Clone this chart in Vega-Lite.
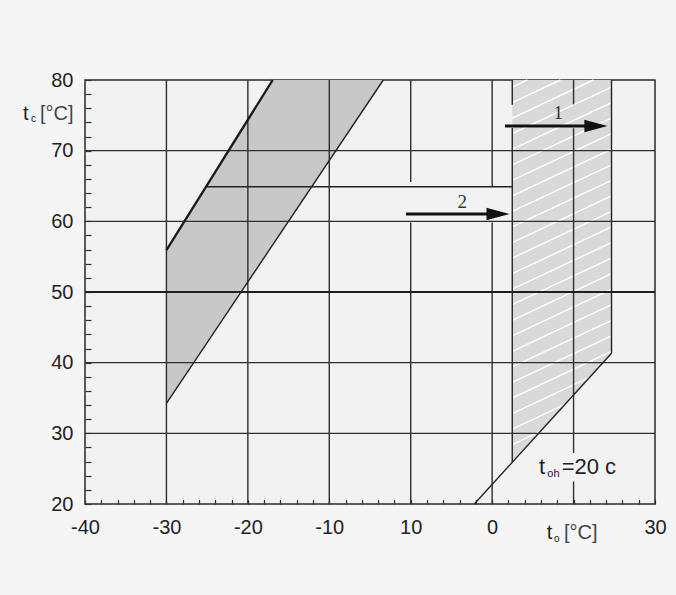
{
  "$schema": "https://vega.github.io/schema/vega-lite/v6.json",
  "width": 570,
  "height": 424,
  "autosize": {"type": "none"},
  "padding": {"left": 85, "top": 80, "right": 21, "bottom": 91},
  "background": "#f5f5f5",
  "config": {
    "view": {"fill": "#f2f2f2", "stroke": "#2a2a2a", "strokeWidth": 1.5}
  },
  "datasets": {
    "band": [
      {"x": -30, "y": 34.25, "y2": 55.94},
      {"x": -16.95, "y": 56.67, "y2": 80},
      {"x": -3.37, "y": 80, "y2": 80}
    ],
    "hatchArea": [
      {"x": 12.47, "y": 25.9, "y2": 80},
      {"x": 24.66, "y": 41.33, "y2": 80}
    ],
    "hatchLines": [
      {"x": 12.47, "y": 79.0, "x2": 14.32, "y2": 80},
      {"x": 12.47, "y": 76.8, "x2": 18.38, "y2": 80},
      {"x": 12.47, "y": 74.6, "x2": 22.44, "y2": 80},
      {"x": 12.47, "y": 72.4, "x2": 24.66, "y2": 79.0},
      {"x": 12.47, "y": 70.2, "x2": 24.66, "y2": 76.8},
      {"x": 12.47, "y": 68.0, "x2": 24.66, "y2": 74.6},
      {"x": 12.47, "y": 65.8, "x2": 24.66, "y2": 72.4},
      {"x": 12.47, "y": 63.6, "x2": 24.66, "y2": 70.2},
      {"x": 12.47, "y": 61.4, "x2": 24.66, "y2": 68.0},
      {"x": 12.47, "y": 59.2, "x2": 24.66, "y2": 65.8},
      {"x": 12.47, "y": 57.0, "x2": 24.66, "y2": 63.6},
      {"x": 12.47, "y": 54.8, "x2": 24.66, "y2": 61.4},
      {"x": 12.47, "y": 52.6, "x2": 24.66, "y2": 59.2},
      {"x": 12.47, "y": 50.4, "x2": 24.66, "y2": 57.0},
      {"x": 12.47, "y": 48.2, "x2": 24.66, "y2": 54.8},
      {"x": 12.47, "y": 46.0, "x2": 24.66, "y2": 52.6},
      {"x": 12.47, "y": 43.8, "x2": 24.66, "y2": 50.4},
      {"x": 12.47, "y": 41.6, "x2": 24.66, "y2": 48.2},
      {"x": 12.47, "y": 39.4, "x2": 24.66, "y2": 46.0},
      {"x": 12.47, "y": 37.2, "x2": 24.66, "y2": 43.8},
      {"x": 12.47, "y": 35.0, "x2": 24.66, "y2": 41.6},
      {"x": 12.47, "y": 32.8, "x2": 22.0, "y2": 37.96},
      {"x": 12.47, "y": 30.6, "x2": 18.96, "y2": 34.11},
      {"x": 12.47, "y": 28.4, "x2": 15.92, "y2": 30.27},
      {"x": 12.47, "y": 26.2, "x2": 12.88, "y2": 26.42}
    ],
    "grid": [
      {"x": -30, "y": 20, "x2": -30, "y2": 80},
      {"x": -20, "y": 20, "x2": -20, "y2": 80},
      {"x": -10, "y": 20, "x2": -10, "y2": 80},
      {"x": 0, "y": 20, "x2": 0, "y2": 59.85},
      {"x": 0, "y": 65.57, "x2": 0, "y2": 80},
      {"x": 10, "y": 20, "x2": 10, "y2": 59.85},
      {"x": 10, "y": 64.9, "x2": 10, "y2": 80},
      {"x": 20, "y": 20, "x2": 20, "y2": 23.16},
      {"x": 20, "y": 27.22, "x2": 20, "y2": 73.17},
      {"x": 20, "y": 76.56, "x2": 20, "y2": 80},
      {"x": -40, "y": 30, "x2": 30, "y2": 30},
      {"x": -40, "y": 40, "x2": 30, "y2": 40},
      {"x": -40, "y": 60, "x2": 30, "y2": 60},
      {"x": -40, "y": 70, "x2": 30, "y2": 70}
    ],
    "grid50": [
      {"x": -40, "y": 50, "x2": 30, "y2": 50}
    ],
    "outlines": [
      {"x": -30, "y": 34.25, "x2": -3.37, "y2": 80},
      {"x": 7.81, "y": 20, "x2": 24.66, "y2": 41.33},
      {"x": 24.66, "y": 41.33, "x2": 24.66, "y2": 80},
      {"x": 12.47, "y": 25.9, "x2": 12.47, "y2": 73.2},
      {"x": 12.47, "y": 76.5, "x2": 12.47, "y2": 80},
      {"x": -25.09, "y": 64.9, "x2": 12.47, "y2": 64.9}
    ],
    "thickLine": [
      {"x": -30, "y": 55.94, "x2": -16.95, "y2": 80}
    ],
    "shafts": [
      {"x": 11.58, "y": 73.49, "x2": 23.3, "y2": 73.49},
      {"x": -0.58, "y": 61.04, "x2": 11.3, "y2": 61.04}
    ],
    "heads": [
      {"x": 24.15, "y": 73.49},
      {"x": 12.13, "y": 61.04}
    ],
    "nums": [
      {"x": 18.12, "y": 75.29, "t": "1"},
      {"x": 6.33, "y": 62.74, "t": "2"}
    ],
    "annBig": [
      {"x": 15.75, "y": 24.25, "t": "t"},
      {"x": 18.54, "y": 24.25, "t": "=20 c"}
    ],
    "annSub": [
      {"x": 16.77, "y": 23.78, "t": "oh"}
    ],
    "titleBig": [
      {"x": -47.61, "y": 74.34, "t": "t"},
      {"x": 16.7, "y": 15.01, "t": "t"}
    ],
    "titleSub": [
      {"x": -46.63, "y": 74.1, "t": "c"},
      {"x": 17.6, "y": 14.63, "t": "o"}
    ],
    "titleUnit": [
      {"x": -45.53, "y": 74.34, "t": "[°C]"},
      {"x": 18.82, "y": 15.01, "t": "[°C]"}
    ]
  },
  "encoding": {
    "x": {
      "field": "x",
      "type": "quantitative",
      "scale": {"domain": [-40, 30], "nice": false, "zero": false},
      "axis": {
        "title": null,
        "tickCount": 35,
        "grid": false,
        "domain": false,
        "ticks": true,
        "tickSize": -4.5,
        "tickColor": "#333",
        "tickWidth": 1.2,
        "labelExpr": "datum.value === 0 ? '10' : datum.value === 10 ? '0' : (datum.value % 10 === 0 && datum.value !== 20) ? '' + datum.value : ''",
        "labelFont": "Liberation Sans",
        "labelFontSize": 20,
        "labelColor": "#222",
        "labelPadding": 18,
        "labelFlush": false,
        "labelOverlap": false
      }
    },
    "y": {
      "field": "y",
      "type": "quantitative",
      "scale": {"domain": [20, 80], "nice": false, "zero": false},
      "axis": {
        "title": null,
        "tickCount": 30,
        "grid": false,
        "domain": false,
        "ticks": true,
        "tickSize": -6,
        "tickColor": "#333",
        "tickWidth": 1.2,
        "labelExpr": "datum.value % 10 === 0 ? '' + datum.value : ''",
        "labelFont": "Liberation Sans",
        "labelFontSize": 20,
        "labelColor": "#222",
        "labelPadding": 18,
        "labelFlush": false,
        "labelOverlap": false
      }
    }
  },
  "layer": [
    {
      "data": {"name": "band"},
      "mark": {"type": "area", "orient": "vertical", "color": "#c8c8c8", "opacity": 1},
      "encoding": {"y2": {"field": "y2"}}
    },
    {
      "data": {"name": "hatchArea"},
      "mark": {"type": "area", "orient": "vertical", "color": "#d9d9d9", "opacity": 1},
      "encoding": {"y2": {"field": "y2"}}
    },
    {
      "data": {"name": "hatchLines"},
      "mark": {"type": "rule", "color": "#ffffff", "strokeWidth": 1.4},
      "encoding": {"x2": {"field": "x2"}, "y2": {"field": "y2"}}
    },
    {
      "data": {"name": "grid"},
      "mark": {"type": "rule", "color": "#2e2e2e", "strokeWidth": 1.4},
      "encoding": {"x2": {"field": "x2"}, "y2": {"field": "y2"}}
    },
    {
      "data": {"name": "grid50"},
      "mark": {"type": "rule", "color": "#1e1e1e", "strokeWidth": 2.2},
      "encoding": {"x2": {"field": "x2"}, "y2": {"field": "y2"}}
    },
    {
      "data": {"name": "outlines"},
      "mark": {"type": "rule", "color": "#222222", "strokeWidth": 1.4},
      "encoding": {"x2": {"field": "x2"}, "y2": {"field": "y2"}}
    },
    {
      "data": {"name": "thickLine"},
      "mark": {"type": "rule", "color": "#1a1a1a", "strokeWidth": 2.3},
      "encoding": {"x2": {"field": "x2"}, "y2": {"field": "y2"}}
    },
    {
      "data": {"name": "shafts"},
      "mark": {"type": "rule", "color": "#111111", "strokeWidth": 3},
      "encoding": {"x2": {"field": "x2"}, "y2": {"field": "y2"}}
    },
    {
      "data": {"name": "heads"},
      "mark": {"type": "point", "shape": "M-2,-0.55L0,0L-2,0.55Z", "size": 529, "filled": true, "color": "#111111", "opacity": 1, "strokeWidth": 0}
    },
    {
      "data": {"name": "nums"},
      "mark": {"type": "text", "font": "Liberation Serif", "fontSize": 19, "color": "#333333", "align": "center", "baseline": "middle"},
      "encoding": {"text": {"field": "t"}}
    },
    {
      "data": {"name": "annBig"},
      "mark": {"type": "text", "font": "Liberation Sans", "fontSize": 22, "color": "#222222", "align": "left", "baseline": "alphabetic"},
      "encoding": {"text": {"field": "t"}}
    },
    {
      "data": {"name": "annSub"},
      "mark": {"type": "text", "font": "Liberation Sans", "fontSize": 11, "color": "#222222", "align": "left", "baseline": "alphabetic"},
      "encoding": {"text": {"field": "t"}}
    },
    {
      "data": {"name": "titleBig"},
      "mark": {"type": "text", "font": "Liberation Sans", "fontSize": 20, "color": "#222222", "align": "left", "baseline": "alphabetic"},
      "encoding": {"text": {"field": "t"}}
    },
    {
      "data": {"name": "titleSub"},
      "mark": {"type": "text", "font": "Liberation Sans", "fontSize": 10, "color": "#222222", "align": "left", "baseline": "alphabetic"},
      "encoding": {"text": {"field": "t"}}
    },
    {
      "data": {"name": "titleUnit"},
      "mark": {"type": "text", "font": "Liberation Sans", "fontSize": 20, "color": "#444444", "align": "left", "baseline": "alphabetic"},
      "encoding": {"text": {"field": "t"}}
    }
  ]
}
